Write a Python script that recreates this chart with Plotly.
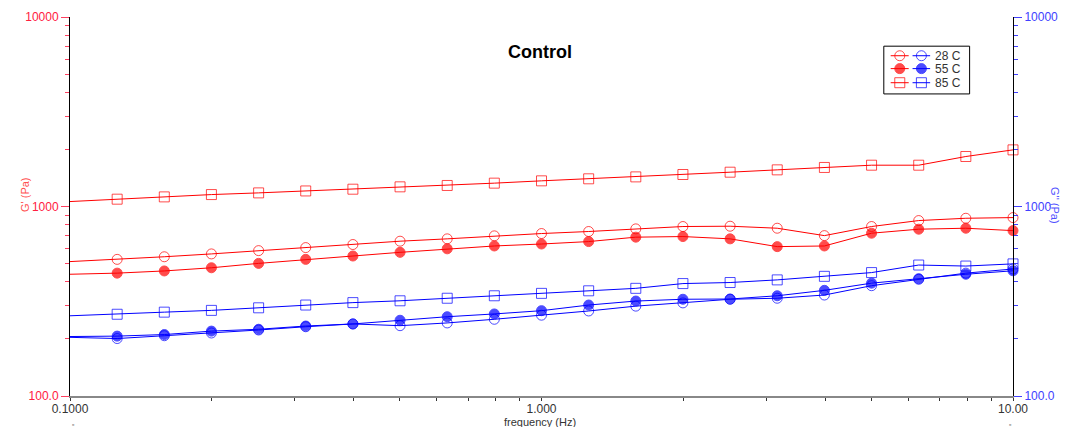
import plotly.graph_objects as go

freq = [0.1, 0.1259, 0.1585, 0.1995, 0.2512, 0.3162, 0.3981, 0.5012, 0.631, 0.7943,
        1.0, 1.259, 1.585, 1.995, 2.512, 3.162, 3.981, 5.012, 6.31, 7.943, 10.0]

g1_28 = [512, 526, 543, 562, 585, 607, 630, 656, 675, 700, 720, 738, 762, 784, 787, 768, 702, 784, 843, 867, 874]
g1_55 = [439, 445, 457, 475, 501, 526, 548, 573, 598, 619, 634, 653, 689, 694, 675, 614, 619, 723, 759, 768, 746]
g1_85 = [1062, 1093, 1124, 1156, 1180, 1208, 1234, 1270, 1291, 1328, 1366, 1400, 1433, 1475, 1517, 1561, 1607, 1652, 1652, 1836, 1990]

g2_28 = [204, 201, 208, 215, 223, 232, 240, 235, 243, 254, 267, 281, 298, 310, 324, 328, 341, 382, 413, 445, 468]
g2_55 = [206, 207, 211, 220, 225, 234, 240, 251, 262, 271, 282, 302, 317, 324, 325, 338, 361, 394, 416, 439, 458]
g2_85 = [265, 270, 277, 283, 292, 302, 311, 318, 328, 338, 348, 359, 370, 392, 397, 410, 428, 448, 491, 485, 498]

labels = ["28 C", "55 C", "85 C"]
RED = "#ff0000"
BLUE = "#0000ff"

symbols = ["circle-open", "circle", "square-open"]

fig = go.Figure()
msize = [0] + [10] * (len(freq) - 1)

def add(y, color, sym, yaxis):
    fig.add_trace(go.Scatter(
        x=freq, y=y, mode="lines+markers", yaxis=yaxis, cliponaxis=False,
        line=dict(color=color, width=1),
        marker=dict(symbol=sym, size=msize, color=color, line=dict(color=color, width=1)),
        showlegend=False, hoverinfo="skip"))

for y, sym in zip([g1_28, g1_55, g1_85], symbols):
    add(y, RED, sym, "y")
for y, sym in zip([g2_28, g2_55, g2_85], symbols):
    add(y, BLUE, sym, "y2")

# Legend glyphs drawn on a small hidden overlay axis
row_y = [0.80, 0.53, 0.235]
for ry, sym in zip(row_y, symbols):
    for color, xs in [(RED, [0.08, 0.186, 0.29]), (BLUE, [0.335, 0.438, 0.54])]:
        fig.add_trace(go.Scatter(
            x=xs, y=[ry] * 3, xaxis="x3", yaxis="y3", mode="lines+markers",
            line=dict(color=color, width=1),
            marker=dict(symbol=sym, size=[0, 10, 0], color=color, line=dict(color=color, width=1)),
            showlegend=False, hoverinfo="skip", cliponaxis=False))

minor_y = [v * m for v in (100, 1000) for m in range(2, 10)]
minor_x = [v * m for v in (0.1, 1) for m in range(2, 10)]

fig.update_layout(
    width=1070, height=427,
    margin=dict(l=70, r=57, t=17, b=31),
    paper_bgcolor="white", plot_bgcolor="white",
    font=dict(family="Liberation Sans, Arial, sans-serif", size=11, color="#333333"),
    showlegend=False,
    xaxis=dict(type="log", range=[-1, 1], showgrid=False, zeroline=False,
               showline=True, linecolor="#888888", linewidth=1.5,
               tickvals=[0.1, 1, 10], ticktext=["0.1000", "1.000", "10.00"],
               ticks="outside", ticklen=3, tickcolor="#333333", ticklabelstandoff=-2,
               minor=dict(tickvals=minor_x, ticks="outside", ticklen=3, tickcolor="#333333"),
               tickfont=dict(size=12, color="#333333"),
               automargin=False),
    yaxis=dict(type="log", range=[2, 4], showgrid=False, zeroline=False,
               showline=True, linecolor="black", linewidth=1,
               tickvals=[100, 1000, 10000], ticktext=["100.0", "1000", "10000"],
               ticks="outside", ticklen=8, tickcolor="#ff4060",
               minor=dict(tickvals=minor_y, ticks="outside", ticklen=4, tickcolor="#ff4060"),
               tickfont=dict(size=12, color="#ff2040"), automargin=False),
    yaxis2=dict(type="log", range=[2, 4], overlaying="y", side="right",
                showgrid=False, zeroline=False,
                showline=True, linecolor="black", linewidth=1,
                tickvals=[100, 1000, 10000], ticktext=["100.0", "1000", "10000"],
                ticks="outside", ticklen=8, tickcolor="#4040ff",
                minor=dict(tickvals=minor_y, ticks="outside", ticklen=4, tickcolor="#4040ff"),
                tickfont=dict(size=12, color="#4040ff"), automargin=False),
    xaxis3=dict(domain=[0.863, 0.954], range=[0, 1], visible=False, fixedrange=True),
    yaxis3=dict(domain=[0.797, 0.923], range=[0, 1], visible=False, fixedrange=True, anchor="x3"),
    shapes=[dict(type="rect", xref="x3 domain", yref="y3 domain", x0=0, x1=1, y0=0, y1=1,
                 line=dict(color="black", width=1), fillcolor="rgba(0,0,0,0)")],
)

annotations = [
    dict(text="<b>Control</b>", x=(540 - 70) / 943, y=(396 - 40) / 379, xref="paper", yref="paper",
         showarrow=False, font=dict(size=18, color="black")),
    dict(text="frequency (Hz)", x=(540 - 70) / 943, y=-(422 - 396) / 379, xref="paper", yref="paper",
         showarrow=False, yanchor="middle", font=dict(size=11, color="#333333")),
    dict(text="G' (Pa)", x=(17 - 70) / 943, y=(396 - 195) / 379, xref="paper", yref="paper",
         showarrow=False, textangle=-90, font=dict(size=11, color="#ff5050")),
    dict(text="G'' (Pa)", x=(1063 - 70) / 943, y=(396 - 205) / 379, xref="paper", yref="paper",
         showarrow=False, textangle=90, font=dict(size=11, color="#5050ff")),
]
for px in (70, 1013):
    annotations.append(dict(text="▫", x=(px - 70) / 943, y=-(424 - 396) / 379, xref="paper",
                            yref="paper", showarrow=False, yanchor="middle",
                            font=dict(size=7, color="#333333")))
for ry, lab in zip(row_y, labels):
    annotations.append(dict(text=lab, x=0.57, y=ry, xref="x3", yref="y3", showarrow=False,
                            xanchor="left", font=dict(size=12, color="#333333")))
fig.update_layout(annotations=annotations)

fig.write_html("out.html", config={"displayModeBar": False},
               post_script="document.body.style.margin='0';")
